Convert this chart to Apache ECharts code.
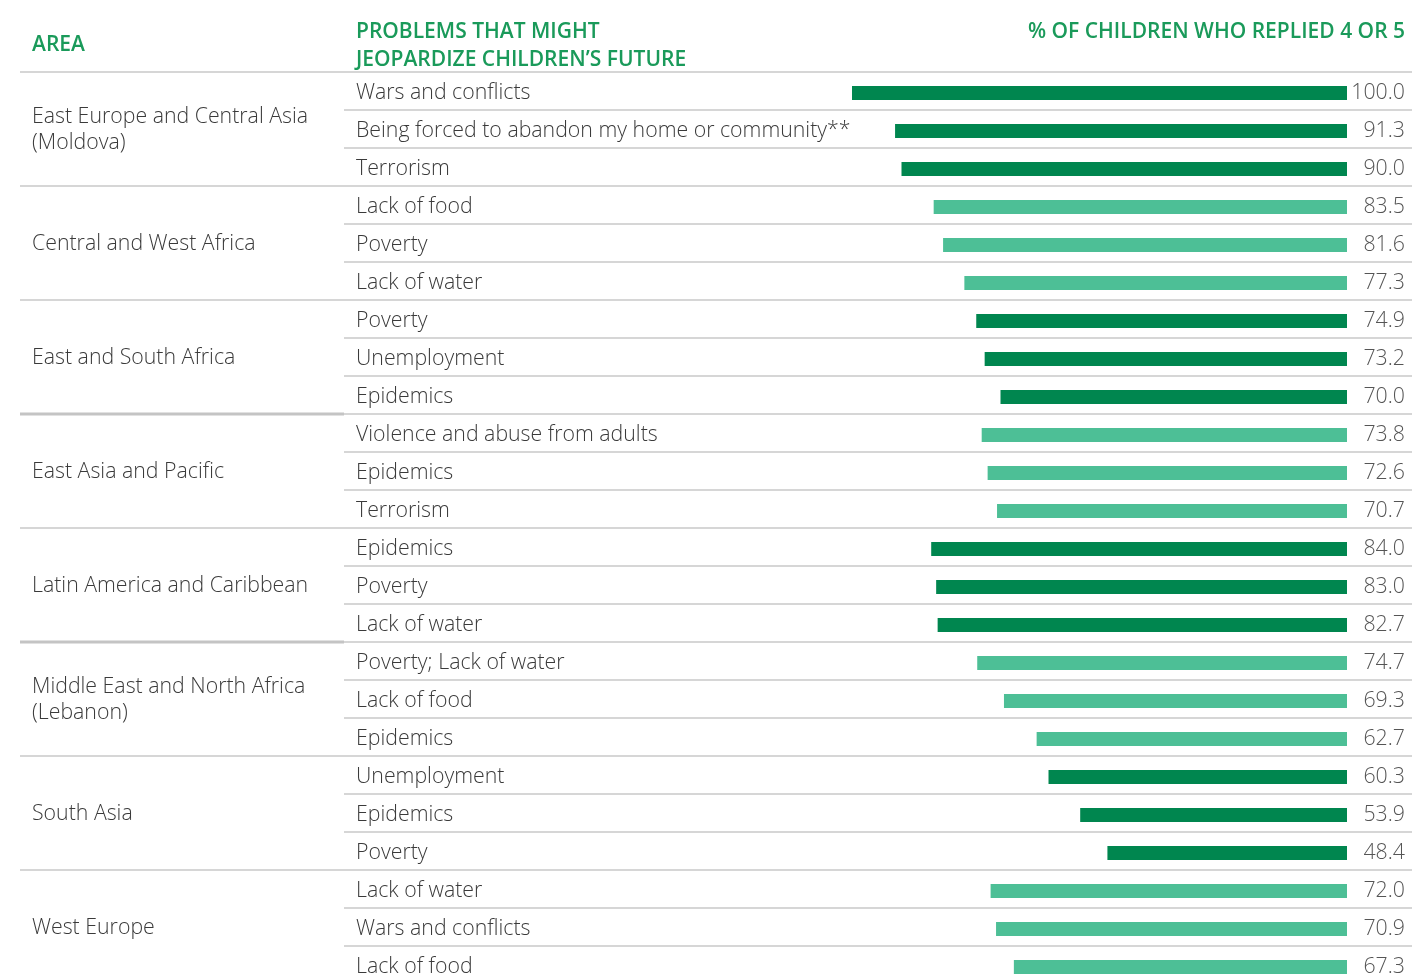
<!DOCTYPE html>
<html>
<head>
<meta charset="utf-8">
<script src="https://cdn.jsdelivr.net/npm/echarts@6/dist/echarts.min.js"></script>
<style>
  html, body { margin: 0; padding: 0; background: #fff; overflow: hidden; }
  #chart { width: 1412px; height: 992px; }
</style>
</head>
<body>
<div id="chart"></div>
<script>
// Regions, three problems each
const areas = [
  "East Europe and Central Asia\n(Moldova)",
  "Central and West Africa",
  "East and South Africa",
  "East Asia and Pacific",
  "Latin America and Caribbean",
  "Middle East and North Africa\n(Lebanon)",
  "South Asia",
  "West Europe"
];

const problems = [
  "Wars and conflicts", "Being forced to abandon my home or community**", "Terrorism",
  "Lack of food", "Poverty", "Lack of water",
  "Poverty", "Unemployment", "Epidemics",
  "Violence and abuse from adults", "Epidemics", "Terrorism",
  "Epidemics", "Poverty", "Lack of water",
  "Poverty; Lack of water", "Lack of food", "Epidemics",
  "Unemployment", "Epidemics", "Poverty",
  "Lack of water", "Wars and conflicts", "Lack of food"
];

const percentages = [
  100.0, 91.3, 90.0,
  83.5, 81.6, 77.3,
  74.9, 73.2, 70.0,
  73.8, 72.6, 70.7,
  84.0, 83.0, 82.7,
  74.7, 69.3, 62.7,
  60.3, 53.9, 48.4,
  72.0, 70.9, 67.3
];

const rowsPerArea = 3;
const DARK = '#00864F';
const LIGHT = '#4DBF96';
const HEAD = '#1A9A5A';
const FONT = "'Open Sans', 'Noto Sans', sans-serif";
const BODY_SIZE = 21.3;
const ROW = 38;

const chart = echarts.init(document.getElementById('chart'), null, { renderer: 'canvas' });

const option = {
  animation: false,
  backgroundColor: '#ffffff',
  grid: { left: 852, right: 65, top: 74, height: problems.length * ROW, containLabel: false },
  xAxis: {
    type: 'value', min: 0, max: 100, inverse: true, show: false
  },
  yAxis: {
    type: 'category',
    data: problems,
    inverse: true,
    axisLine: { show: false },
    axisTick: { show: false },
    splitLine: { show: false },
    axisLabel: {
      align: 'left',
      margin: 496,
      fontFamily: FONT,
      fontWeight: 300,
      fontSize: BODY_SIZE,
      color: '#3a3a3a'
    }
  },
  series: [{
    type: 'bar',
    barWidth: 14,
    data: percentages.map((v, i) => ({
      value: v,
      itemStyle: { color: Math.floor(i / rowsPerArea) % 2 === 0 ? DARK : LIGHT }
    })),
    label: {
      show: true,
      position: 'right',
      distance: 58,
      align: 'right',
      fontFamily: FONT,
      fontWeight: 300,
      fontSize: BODY_SIZE,
      color: '#555555',
      formatter: p => p.value.toFixed(1)
    }
  }]
};

chart.setOption(option);

// Row boundaries and group text, placed from the category axis scale
const yc = i => chart.convertToPixel({ yAxisIndex: 0 }, i);
const step = yc(1) - yc(0);
const boundary = i => Math.round(yc(i) - step / 2) - 2;

const graphics = [];

// Column headers
const headStyle = { fill: HEAD, font: "600 21px " + FONT, lineHeight: 28 };
graphics.push({ type: 'text', left: 32, top: 31, style: Object.assign({ text: 'AREA' }, headStyle) });
graphics.push({ type: 'text', left: 356, top: 18, style: Object.assign({ text: 'PROBLEMS THAT MIGHT\nJEOPARDIZE CHILDREN\u2019S FUTURE' }, headStyle) });
graphics.push({ type: 'text', right: 7, top: 18, style: Object.assign({ text: '% OF CHILDREN WHO REPLIED 4 OR 5', textAlign: 'right' }, headStyle) });

// Horizontal rules
for (let i = 0; i <= problems.length; i++) {
  const y = boundary(i);
  const isGroupEdge = i % rowsPerArea === 0;
  if (isGroupEdge && (i === 9 || i === 15)) {
    graphics.push({ type: 'line', shape: { x1: 20, y1: y, x2: 344, y2: y }, style: { stroke: '#c4c4c4', lineWidth: 3 } });
    graphics.push({ type: 'line', shape: { x1: 344, y1: y, x2: 1412, y2: y }, style: { stroke: '#d6d6d6', lineWidth: 2 } });
  } else {
    graphics.push({
      type: 'line',
      shape: { x1: isGroupEdge ? 20 : 344, y1: y, x2: 1412, y2: y },
      style: { stroke: '#d6d6d6', lineWidth: 2 }
    });
  }
}

// Area names, centred on each group's middle row
areas.forEach((name, g) => {
  const mid = yc(g * rowsPerArea + 1) - 1;
  graphics.push({
    type: 'text',
    x: 32,
    y: mid,
    style: {
      text: name,
      fill: '#3a3a3a',
      font: "300 " + BODY_SIZE + "px " + FONT,
      lineHeight: 26,
      textVerticalAlign: 'middle',
      verticalAlign: 'middle'
    }
  });
});

chart.setOption({ graphic: graphics });
</script>
</body>
</html>
